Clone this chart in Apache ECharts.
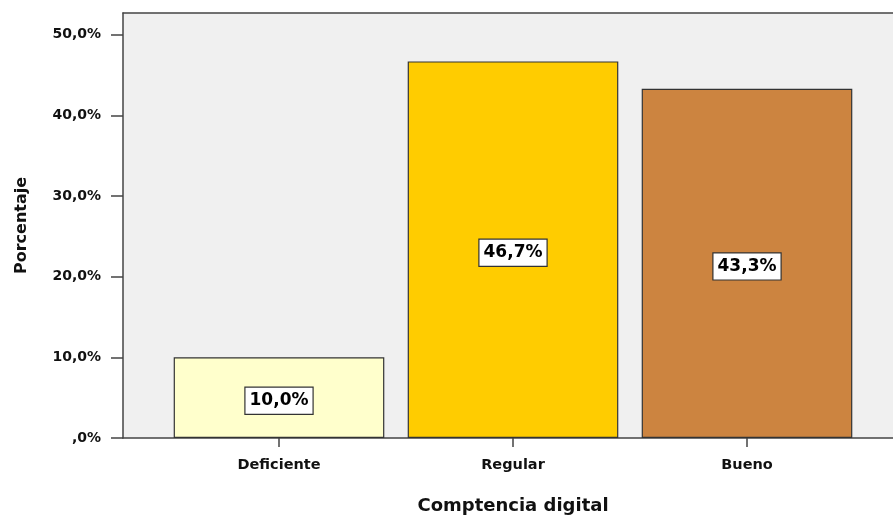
<!DOCTYPE html>
<html><head><meta charset="utf-8">
<script src="https://cdn.jsdelivr.net/npm/echarts@6/dist/echarts.min.js"></script>
<style>html,body{margin:0;padding:0;background:#fff}#c{width:893px;height:516px}</style>
</head><body><div id="c"></div>
<script>
const categories = ['Deficiente', 'Regular', 'Bueno'];
const values = [10.0, 46.7, 43.3];
const barColors = ['#ffffcc', '#ffcc00', '#cc8440'];
const yTicks = [0, 10, 20, 30, 40, 50];
const yName = 'Porcentaje';
const xName = 'Comptencia digital';

const F = '"DejaVu Sans", Verdana, sans-serif';
const fmt = v => {
  const s = v.toFixed(1).split('.');
  return (s[0] === '0' ? '' : s[0]) + ',' + s[1] + '%';
};
const AX = '#444';

const chart = echarts.init(document.getElementById('c'), null, {renderer: 'canvas'});
chart.setOption({
  animation: false,
  grid: [
    {left: 123, right: 0, top: 13, bottom: 78, show: true, backgroundColor: '#f0f0f0', borderWidth: 0,
     containLabel: false, outerBoundsMode: 'none'},
    {left: 162, right: 29, top: 13, bottom: 78, containLabel: false, outerBoundsMode: 'none'}
  ],
  xAxis: [
    {gridIndex: 0, type: 'category', data: [''], position: 'bottom',
     axisLine: {show: true, lineStyle: {color: AX, width: 1.5}},
     axisTick: {show: false}, axisLabel: {show: false}, splitLine: {show: false}},
    {gridIndex: 0, type: 'category', data: [''], position: 'top',
     axisLine: {show: true, lineStyle: {color: AX, width: 1.5}},
     axisTick: {show: false}, axisLabel: {show: false}, splitLine: {show: false}},
    {gridIndex: 1, type: 'category', data: categories,
     axisLine: {show: false},
     axisTick: {show: true, alignWithLabel: true, length: 9, lineStyle: {color: AX, width: 1.5}},
     axisLabel: {margin: 20, fontFamily: F, fontWeight: 'bold', fontSize: 14.5, color: '#111'},
     name: xName, nameLocation: 'middle', nameGap: 59,
     nameTextStyle: {fontFamily: F, fontWeight: 'bold', fontSize: 18, color: '#111'}}
  ],
  yAxis: [
    {gridIndex: 0, type: 'value', min: 0, max: 52.7,
     axisLine: {show: true, lineStyle: {color: AX, width: 1.5}},
     axisTick: {show: true, length: 12, customValues: yTicks, lineStyle: {color: AX, width: 1.5}},
     axisLabel: {margin: 22, customValues: yTicks, fontFamily: F, fontWeight: 'bold', fontSize: 14, color: '#111',
       formatter: v => fmt(v)},
     splitLine: {show: false},
     name: yName, nameLocation: 'middle', nameGap: 93, nameRotate: 90,
     nameTextStyle: {fontFamily: F, fontWeight: 'bold', fontSize: 16, color: '#111'}},
    {gridIndex: 1, type: 'value', min: 0, max: 52.7, show: false, splitLine: {show: false}}
  ],
  series: [{
    type: 'bar', xAxisIndex: 2, yAxisIndex: 1,
    barCategoryGap: '10%',
    data: values.map((v, i) => ({value: v, itemStyle: {color: barColors[i]}})),
    itemStyle: {borderColor: '#333', borderWidth: 1.2},
    label: {show: true, position: 'inside', offset: [0, 3], formatter: p => fmt(p.value),
      fontFamily: F, fontWeight: 'bold', fontSize: 17, color: '#000',
      backgroundColor: '#fff', borderColor: '#333', borderWidth: 1.2,
      padding: [5, 4, 4, 4]}
  }]
});
</script></body></html>
